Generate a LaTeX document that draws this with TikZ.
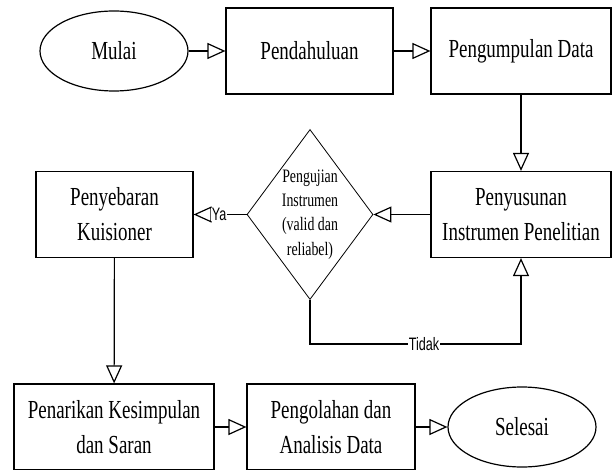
\documentclass[tikz,border=0pt]{standalone}
\usepackage{fontspec}
\setmainfont{Liberation Serif}[FakeStretch=0.73]
\newfontfamily\lblfont{Liberation Sans}[FakeStretch=0.7]
\usetikzlibrary{arrows.meta,shapes.geometric}

\begin{document}
\begin{tikzpicture}[x=1pt,y=-1pt,>={Triangle[open,length=18pt,width=16pt]},line width=1.2pt,
  font=\fontsize{26}{35}\selectfont,
  box/.style={draw,align=center,minimum height=86pt,inner sep=0pt},
  term/.style={draw,ellipse,minimum width=148pt,minimum height=80pt,inner sep=0pt},
  decision/.style={draw,diamond,line width=0.8pt,align=center,inner sep=0pt,shape aspect=0.74,minimum width=126pt,minimum height=170pt,font=\fontsize{19}{24.4}\selectfont},
  lbl/.style={fill=white,inner sep=0.5pt,font=\lblfont\fontsize{18}{18}\selectfont}]
\useasboundingbox (0,0) rectangle (612,470);
\node[term] (mulai) at (114,51) {Mulai};
\node[box,minimum width=167pt] (pend) at (309.5,51) {Pendahuluan};
\node[box,minimum width=180pt] (kumpul) at (521,51) {Pengumpulan Data};
\node[box,minimum width=180pt] (susun) at (521,214.5) {Penyusunan\\Instrumen Penelitian};
\node[decision] (uji) at (310,214.5) {Pengujian\\Instrumen\\(valid dan\\reliabel)};
\node[box,minimum width=157pt] (sebar) at (114.5,214.5) {Penyebaran\\Kuisioner};
\node[box,minimum width=200pt] (tarik) at (114,427) {Penarikan Kesimpulan\\dan Saran};
\node[box,minimum width=168pt] (olah) at (331,427) {Pengolahan dan\\Analisis Data};
\node[term] (selesai) at (522,427) {Selesai};
\draw[->] (mulai)--(pend);
\draw[->] (pend)--(kumpul);
\draw[->] (kumpul)--(susun);
\draw[->] (susun.west)--(uji.east);
\draw[->] (uji.west)--node[lbl,pos=0.52]{Ya} (sebar.east);
\draw[->] (uji.south)--++(0,44) -| node[lbl,pos=0.27]{Tidak} (susun.south);
\draw[->] (sebar)--(tarik);
\draw[->] (tarik)--(olah);
\draw[->] (olah)--(selesai);
\end{tikzpicture}
\end{document}
